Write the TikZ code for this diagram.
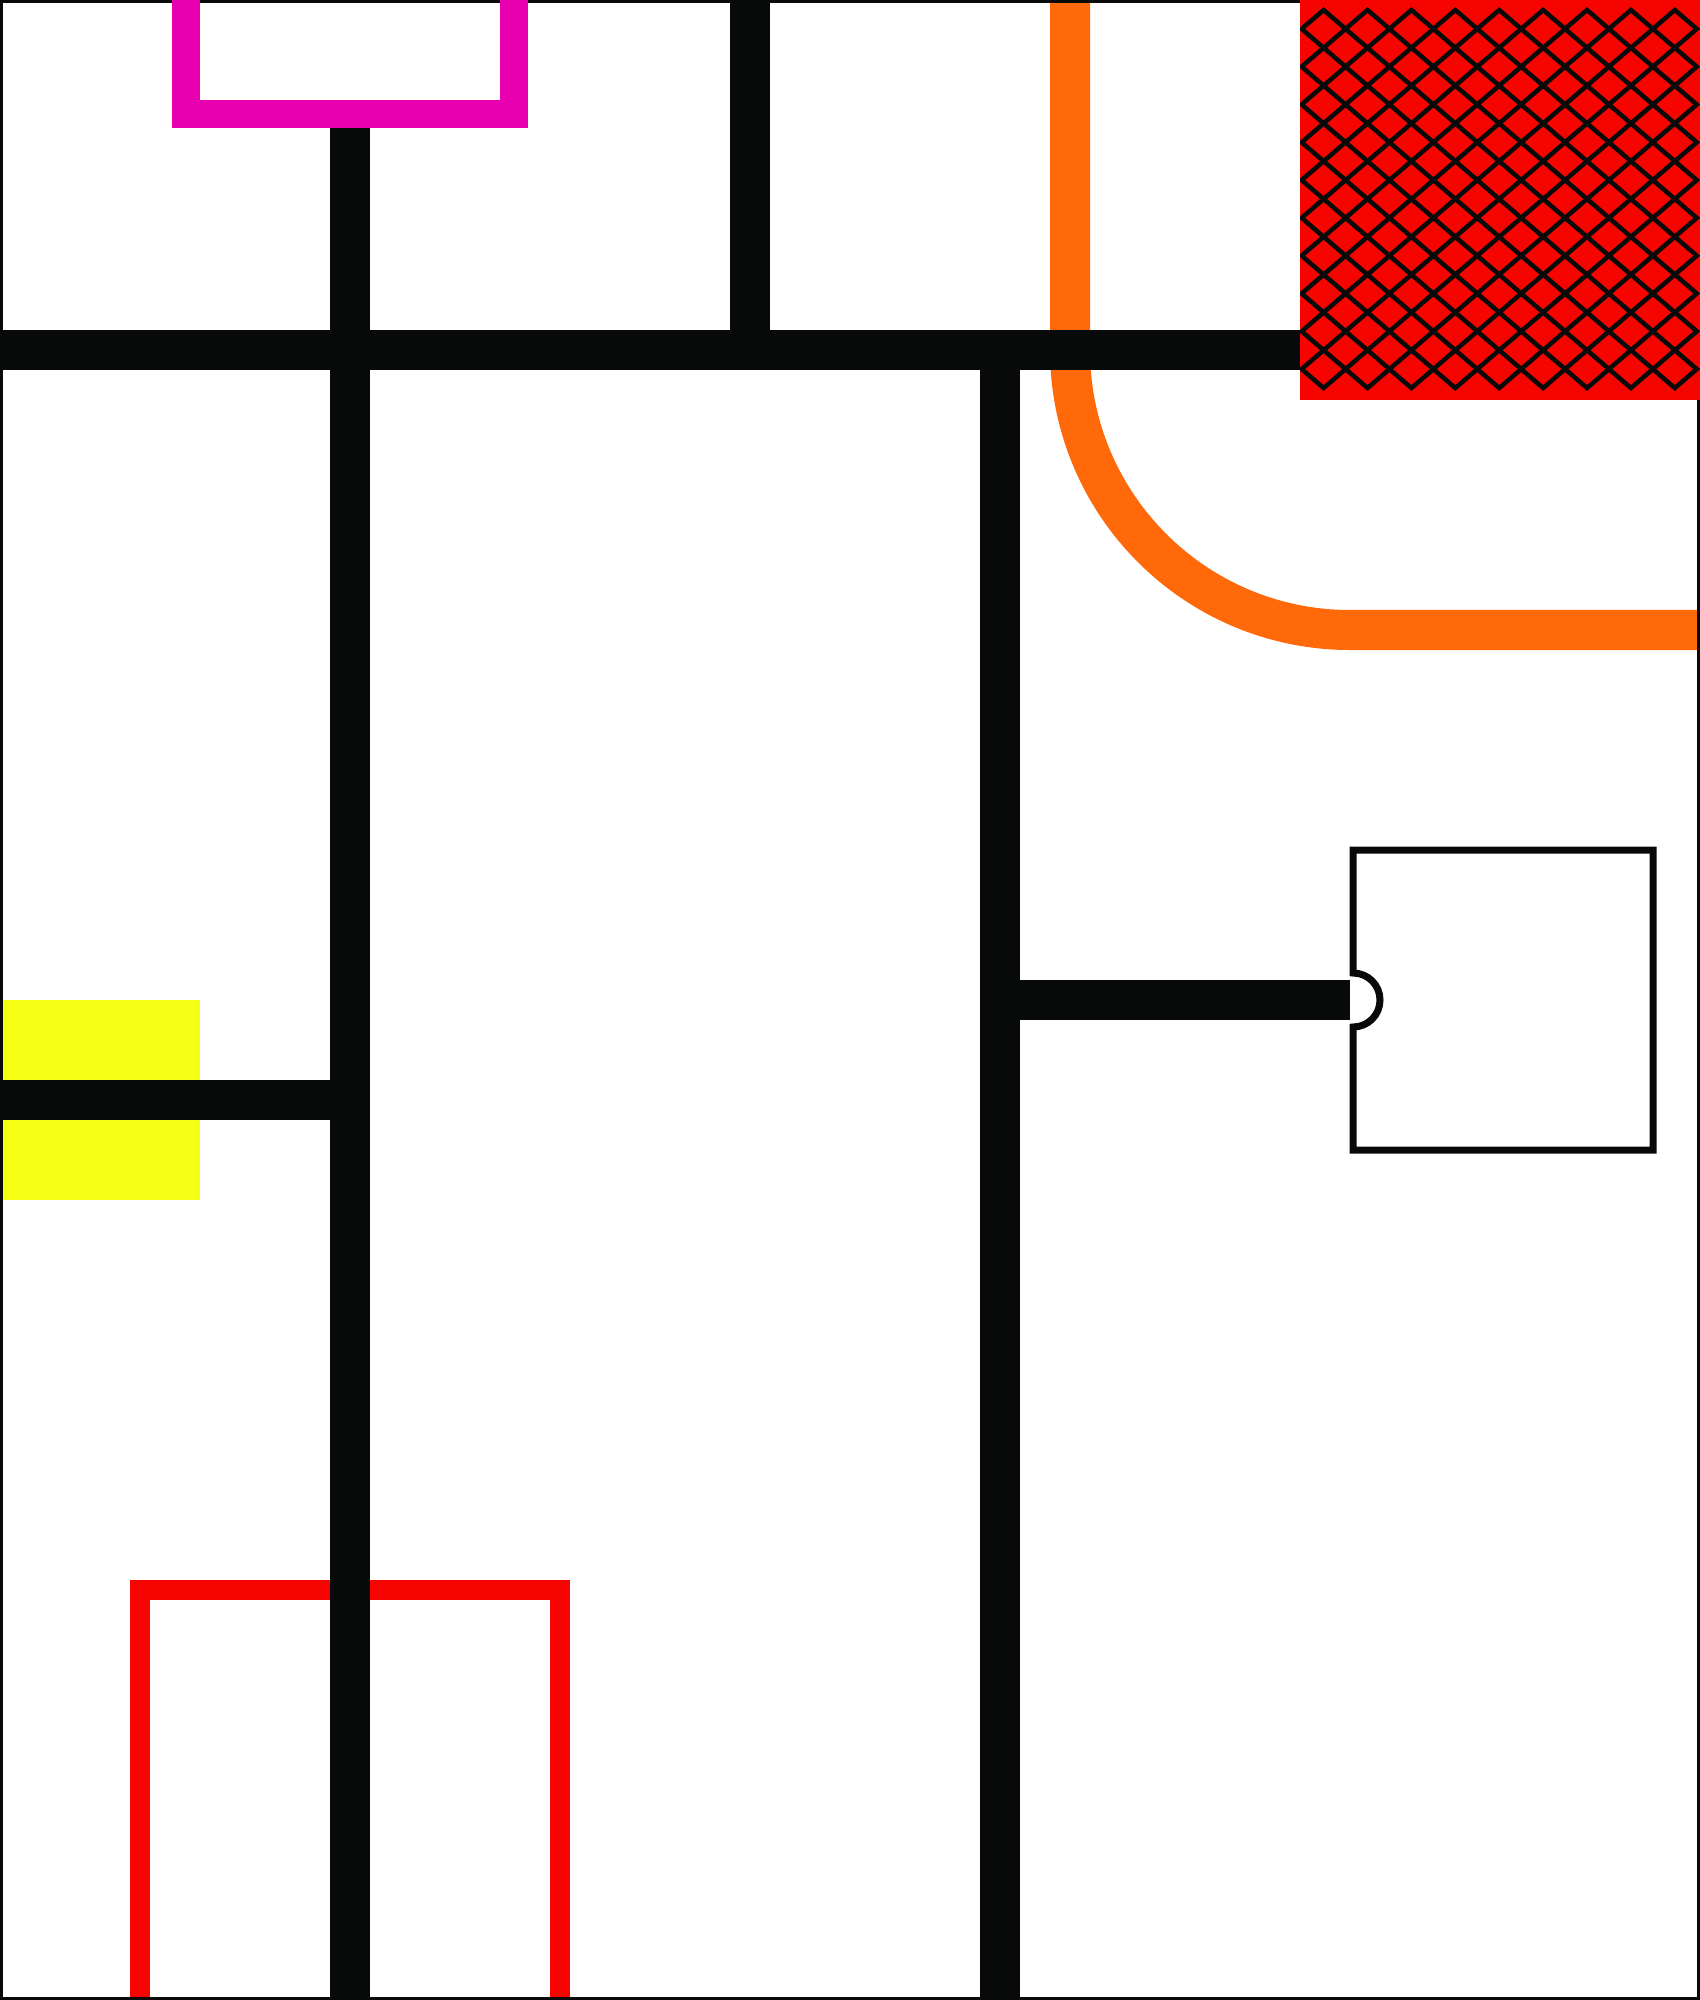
\documentclass[tikz,border=0pt]{standalone}
\definecolor{wallblack}{RGB}{8,10,9}
\definecolor{magentaU}{RGB}{232,0,176}
\definecolor{redU}{RGB}{245,4,0}
\definecolor{orangeP}{RGB}{255,105,10}
\definecolor{yellowP}{RGB}{245,255,20}
\tikzset{
  wall/.style={fill=wallblack, draw=none},
  ushape/.style={line width=#1, line join=miter, line cap=butt},
}
\begin{document}
\begin{tikzpicture}[x=0.01cm, y=-0.01cm]
\useasboundingbox (0,0) rectangle (1700,2000);
\clip (0,0) rectangle (1700,2000);
% orange path
\draw[orangeP, line width=0.4cm] (1070,-10) -- (1070,350) .. controls (1070,504.6) and (1195.4,630) .. (1350,630) -- (1710,630);
% bottom red U
\draw[redU, ushape=0.2cm] (140,2010) -- (140,1590) -- (560,1590) -- (560,2010);
% yellow
\fill[yellowP] (3,1000) rectangle (200,1200);
% frame
\draw[wallblack, line width=0.03cm] (1.5,1.5) rectangle (1698.5,1998.5);
% magenta U
\draw[magentaU, ushape=0.28cm] (186,-10) -- (186,114) -- (514,114) -- (514,-10);
% walls
\fill[wall] (0,330) rectangle (1300,370);
\fill[wall] (330,128) rectangle (370,2000);
\fill[wall] (730,0) rectangle (770,330);
\fill[wall] (980,370) rectangle (1020,2000);
\fill[wall] (1020,980) rectangle (1350,1020);
\fill[wall] (0,1080) rectangle (330,1120);
% notched box
\draw[wallblack, line width=0.07cm, line join=miter]
  (1353,973) -- (1353,850) -- (1653,850) -- (1653,1150) -- (1353,1150) -- (1353,1027)
  .. controls (1368,1027) and (1380,1015) .. (1380,1000)
  .. controls (1380,985) and (1368,973) .. (1353,973) -- cycle;
% hatched red block
\fill[redU] (1300,0) rectangle (1700,400);
\begin{scope}
\clip (1300,0) rectangle (1700,400);
\foreach \i in {0,...,8}{
  \foreach \j in {0,...,9}{
    \draw[wallblack, line width=0.045cm, line join=miter]
      ({1323.6+43.9*\i-22},{28.9+37.8*\j}) -- ++(22,-18.9) -- ++(22,18.9) -- ++(-22,18.9) -- cycle;
  }
}
\end{scope}
\end{tikzpicture}
\end{document}
